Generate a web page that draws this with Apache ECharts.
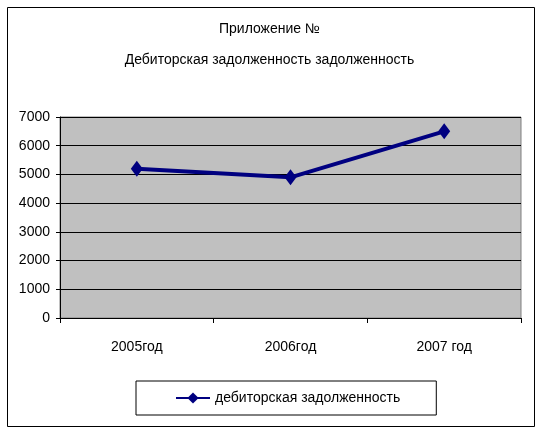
<!DOCTYPE html>
<html><head><meta charset="utf-8">
<script src="https://cdn.jsdelivr.net/npm/echarts@6/dist/echarts.min.js"></script>
<style>html,body{margin:0;padding:0;background:#fff}#c{width:539px;height:431px}</style>
</head><body><div id="c"></div>
<script>
const titleLines = ['Приложение №', 'Дебиторская задолженность задолженность'];
const categories = ['2005год', '2006год', '2007 год'];
const seriesName = 'дебиторская задолженность';
const values = [5200, 4900, 6500];
const yMin = 0, yMax = 7000, yStep = 1000;

const chart = echarts.init(document.getElementById('c'));
const font = '"Liberation Sans", Arial, sans-serif';
chart.setOption({
  animation: false,
  backgroundColor: '#fff',
  graphic: [{
    type: 'rect', left: 5, top: 5, shape: { width: 527, height: 419 },
    style: { fill: 'none', stroke: '#000', lineWidth: 1 }, silent: true
  }],
  title: {
    text: titleLines.join('\n'),
    left: 'center', top: 9,
    textStyle: { fontFamily: font, fontSize: 14, fontWeight: 'normal', color: '#000', lineHeight: 31 }
  },
  legend: {
    data: [seriesName],
    left: 136, top: 381,
    padding: [10, 36, 10, 39],
    borderColor: '#000', borderWidth: 1,
    itemWidth: 34, itemHeight: 14,
    textStyle: { fontFamily: font, fontSize: 14, color: '#000' }
  },
  grid: {
    left: 60, right: 18, top: 117, bottom: 113,
    show: true, backgroundColor: '#c0c0c0', borderColor: '#808080', borderWidth: 1
  },
  xAxis: {
    type: 'category', data: categories, boundaryGap: true,
    axisLine: { lineStyle: { color: '#000', width: 1 } },
    axisTick: { show: true, length: 5, lineStyle: { color: '#000' } },
    axisLabel: { fontFamily: font, fontSize: 14, color: '#000', margin: 22 },
    splitLine: { show: false }
  },
  yAxis: {
    type: 'value', min: yMin, max: yMax, interval: yStep,
    axisLine: { show: true, lineStyle: { color: '#000', width: 1 } },
    axisTick: { show: true, length: 4, lineStyle: { color: '#000' } },
    axisLabel: { fontFamily: font, fontSize: 14, color: '#000', margin: 10, formatter: v => String(v) },
    splitLine: { show: true, lineStyle: { color: '#000', width: 1 } }
  },
  series: [{
    name: seriesName, type: 'line', data: values,
    lineStyle: { color: '#000080', width: 4 },
    itemStyle: { color: '#000080' },
    symbol: 'diamond', symbolSize: [12, 16]
  }]
});
</script></body></html>
